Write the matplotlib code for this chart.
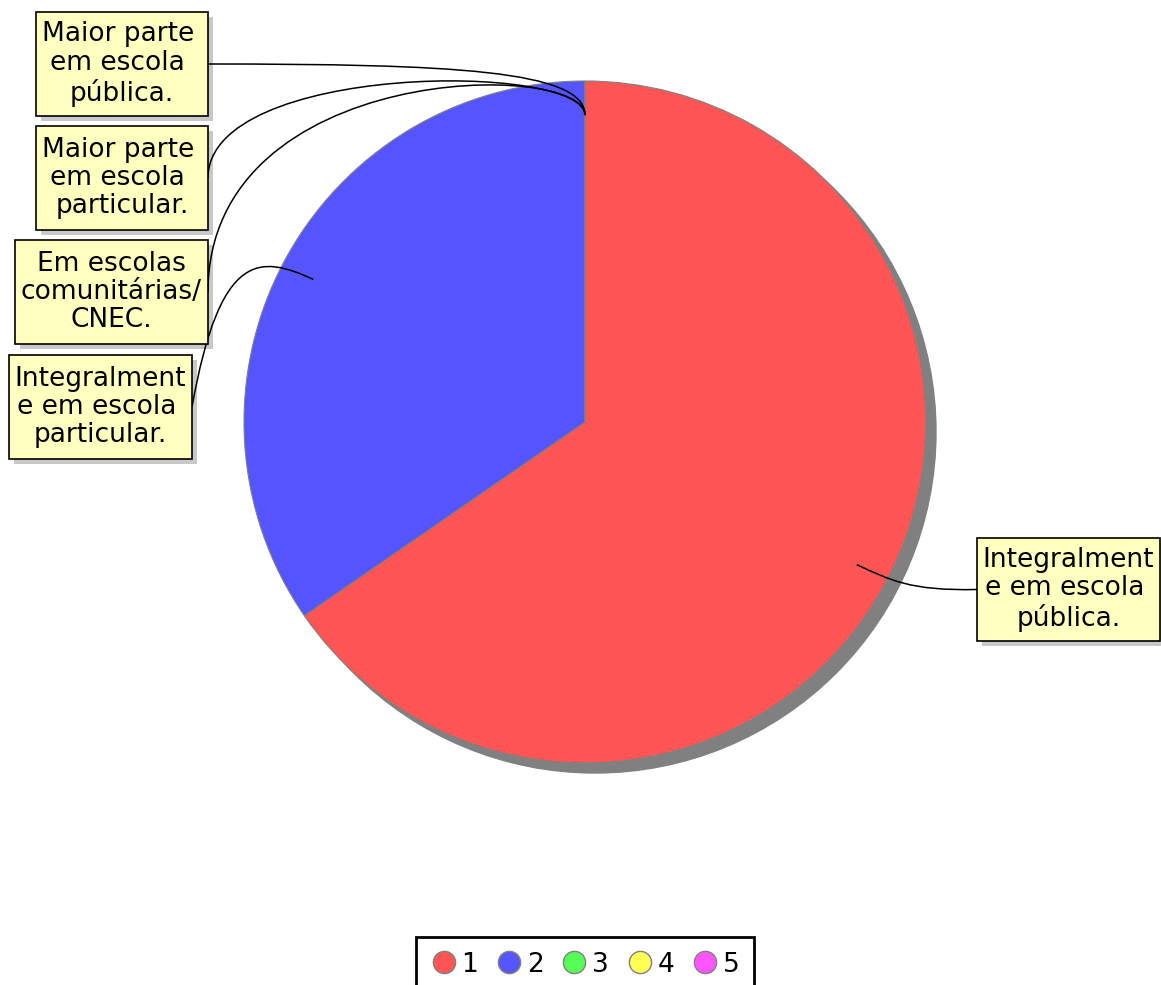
import matplotlib
matplotlib.use('Agg')
import matplotlib.pyplot as plt
import numpy as np
from matplotlib.patches import Circle, Rectangle, PathPatch
from matplotlib.path import Path
from matplotlib.lines import Line2D

W, H = 1161, 985

# data
categories = ['1', '2', '3', '4', '5']
labels = [
    'Integralment\ne em escola \npública.',
    'Integralment\ne em escola \nparticular.',
    'Maior parte \nem escola \npública.',
    'Maior parte \nem escola \nparticular.',
    'Em escolas\ncomunitárias/\nCNEC.',
]
counts = [17, 9, 0, 0, 0]
colors = ['#ff5555', '#5555ff', '#55ff55', '#ffff55', '#ff55ff']

# layout (pixel coords, y down)
CX, CY, R = 585, 422, 341
boxes = [
    (977, 538, 1160, 641),
    (9, 355, 192, 459),
    (36, 12, 208, 116),
    (36, 126, 208, 230),
    (15, 240, 208, 344),
]
# bezier control points for each connector (P1, P2)
ctrl = [
    ((910, 591), (890, 580)),
    ((220, 250), (260, 255)),
    ((450, 64), (585, 70)),
    ((208, 62), (585, 62)),
    ((208, 60), (585, 60)),
]

fig = plt.figure(figsize=(W / 100, H / 100), dpi=100)
ax = fig.add_axes([0, 0, 1, 1])

# shadow
ax.add_patch(Circle((CX + 10, CY + 10), R, color='#808080', zorder=0))

wedges, _ = ax.pie(counts, colors=colors, radius=R, center=(CX, CY),
                   startangle=-90, counterclock=True,
                   wedgeprops=dict(edgecolor='#808080', linewidth=0.8))

ax.set_xlim(0, W)
ax.set_ylim(H, 0)
ax.set_aspect('equal')
ax.axis('off')

for w, lab, box, (p1, p2) in zip(wedges, labels, boxes, ctrl):
    mid = np.deg2rad((w.theta1 + w.theta2) / 2)
    ax_x = CX + 0.9 * R * np.cos(mid)
    ax_y = CY + 0.9 * R * np.sin(mid)
    x0, y0, x1, y1 = box
    ym = (y0 + y1) / 2
    start = (x1, ym) if x1 < CX else (x0, ym)
    path = Path([start, p1, p2, (ax_x, ax_y)],
                [Path.MOVETO, Path.CURVE4, Path.CURVE4, Path.CURVE4])
    ax.add_patch(Rectangle((x0 + 5, y0 + 5), x1 - x0, y1 - y0,
                           fc='#c8c8c8', ec='none', zorder=5))
    ax.add_patch(PathPatch(path, fc='none', ec='black', lw=1.1, zorder=6))
    ax.add_patch(Rectangle((x0, y0), x1 - x0, y1 - y0,
                           fc='#ffffc0', ec='black', lw=1.2, zorder=7))
    ax.text((x0 + x1) / 2, ym, lab, ha='center', va='center',
            multialignment='center', fontsize=19, linespacing=1.12,
            zorder=8)

handles = [Line2D([], [], ls='none', marker='o', markersize=16,
                  markerfacecolor=c, markeredgecolor='#808080',
                  markeredgewidth=1.0) for c in colors]
leg = ax.legend(handles, categories, loc='upper center',
                bbox_to_anchor=(585 / W, 1 - 937 / H),
                bbox_transform=fig.transFigure, ncol=5, fontsize=19,
                frameon=True, fancybox=False, framealpha=1,
                handlelength=1.0, handletextpad=0.17, columnspacing=0.67,
                borderpad=0.55, borderaxespad=0)
leg.get_frame().set_edgecolor('black')
leg.get_frame().set_linewidth(2)

fig.savefig('out.png', dpi=100)
